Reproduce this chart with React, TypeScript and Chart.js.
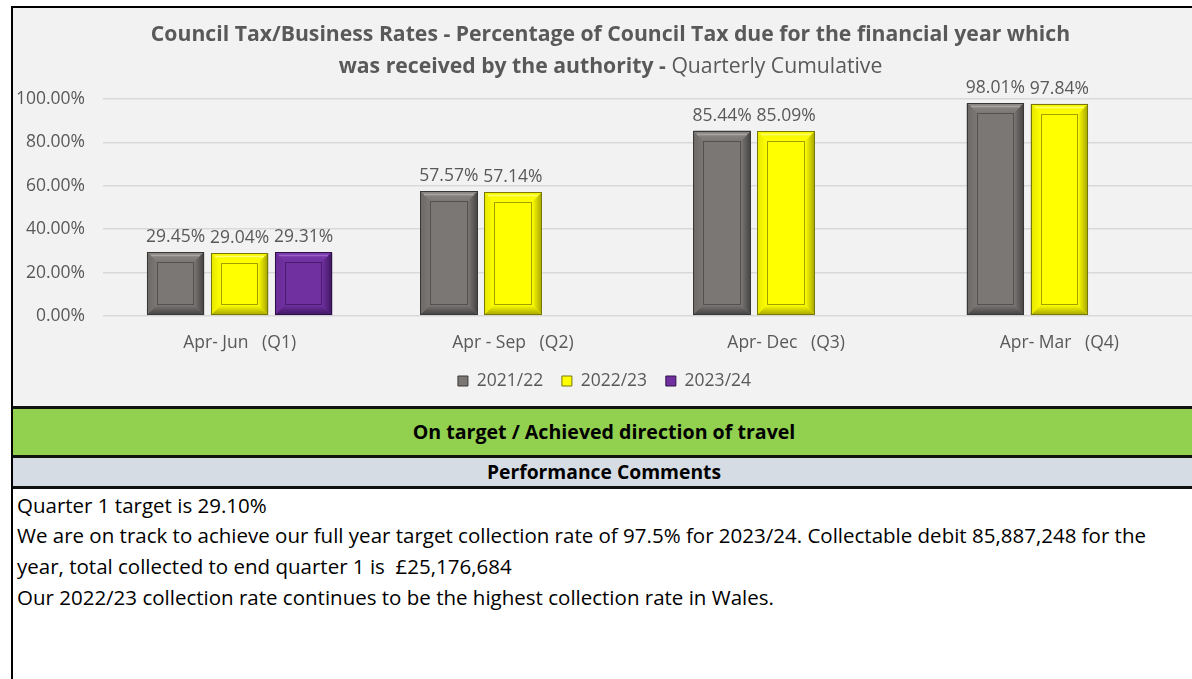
import React, { useEffect, useRef } from "react";
import { Chart, registerables } from "chart.js";

Chart.register(...registerables);

const categories = ["Apr- Jun   (Q1)", "Apr - Sep   (Q2)", "Apr- Dec   (Q3)", "Apr- Mar   (Q4)"];
const seriesNames = ["2021/22", "2022/23", "2023/24"];
const values2122 = [29.45, 57.57, 85.44, 98.01];
const values2223 = [29.04, 57.14, 85.09, 97.84];
const values2324 = [29.31, null, null, null];
const yTickValues = [0, 20, 40, 60, 80, 100];

const titleLine1 = "Council Tax/Business Rates - Percentage of Council Tax due for the financial year which";
const titleLine2Bold = "was received by the authority - ";
const titleLine2Normal = "Quarterly Cumulative";
const statusText = "On target / Achieved direction of travel";
const commentsHeader = "Performance Comments";
const commentLines = [
  "Quarter 1 target is 29.10%",
  "We are on track to achieve our full year target collection rate of 97.5% for 2023/24. Collectable debit 85,887,248 for the",
  "year, total collected to end quarter 1 is  £25,176,684",
  "Our 2022/23 collection rate continues to be the highest collection rate in Wales.",
];

const FONT = "'Open Sans'";
const TEXT_GRAY = "#595959";
const SMALL = 17.5;

const palettes = [
  { base: "#7a7775", topOuter: "#8c8987", hl: "#a9a6a4", leftOuter: "#6c6967", rightOuter: "#434140", bottomOuter: "#434140", inner: "#535150", border: "#3a3837" },
  { base: "#ffff00", topOuter: "#f4f400", hl: "#ffff70", leftOuter: "#e6e600", rightOuter: "#a3a300", bottomOuter: "#a3a300", inner: "#a0a000", border: "#77770a" },
  { base: "#7030a0", topOuter: "#7c3aae", hl: "#9a62c6", leftOuter: "#6a2c98", rightOuter: "#3f1660", bottomOuter: "#3f1660", inner: "#4a1c70", border: "#2e1048" },
];

function fillPoly(ctx: CanvasRenderingContext2D, pts: number[][], style: any) {
  ctx.beginPath();
  ctx.moveTo(pts[0][0], pts[0][1]);
  for (let i = 1; i < pts.length; i++) ctx.lineTo(pts[i][0], pts[i][1]);
  ctx.closePath();
  ctx.fillStyle = style;
  ctx.fill();
}

function grad(ctx: CanvasRenderingContext2D, x0: number, y0: number, x1: number, y1: number, c0: string, c1: string) {
  const g = ctx.createLinearGradient(x0, y0, x1, y1);
  g.addColorStop(0, c0);
  g.addColorStop(1, c1);
  return g;
}

const bevelPlugin = {
  id: "bevelBars",
  afterDatasetsDraw(chart: any) {
    const ctx: CanvasRenderingContext2D = chart.ctx;
    ctx.save();
    chart.data.datasets.forEach((ds: any, i: number) => {
      const meta = chart.getDatasetMeta(i);
      const pal = palettes[i];
      meta.data.forEach((el: any, j: number) => {
        const v = ds.data[j];
        if (v == null) return;
        const { x, y, base, width } = el.getProps(["x", "y", "base", "width"], true);
        const l = Math.round(x - width / 2);
        const r = Math.round(x + width / 2);
        const t = Math.round(Math.min(y, base));
        const b = Math.round(Math.max(y, base));
        const bw = Math.min(10, (r - l) / 4, (b - t) / 4);
        ctx.fillStyle = pal.base;
        ctx.fillRect(l, t, r - l, b - t);
        fillPoly(ctx, [[l, t], [r, t], [r - bw, t + bw], [l + bw, t + bw]], grad(ctx, 0, t, 0, t + bw, pal.topOuter, pal.base));
        fillPoly(ctx, [[l, t], [l + bw, t + bw], [l + bw, b - bw], [l, b]], grad(ctx, l, 0, l + bw, 0, pal.leftOuter, pal.base));
        fillPoly(ctx, [[r, t], [r, b], [r - bw, b - bw], [r - bw, t + bw]], grad(ctx, r, 0, r - bw, 0, pal.rightOuter, pal.base));
        fillPoly(ctx, [[l, b], [l + bw, b - bw], [r - bw, b - bw], [r, b]], grad(ctx, 0, b, 0, b - bw, pal.bottomOuter, pal.base));
        ctx.lineWidth = 1.5;
        ctx.strokeStyle = pal.hl;
        ctx.beginPath();
        ctx.moveTo(l + 4, t + 3.5);
        ctx.lineTo(r - 4, t + 3.5);
        ctx.stroke();
        ctx.lineWidth = 1;
        ctx.strokeStyle = pal.inner;
        ctx.strokeRect(Math.round(l + bw) + 0.5, Math.round(t + bw) + 0.5, Math.round(r - l - 2 * bw) - 1, Math.round(b - t - 2 * bw) - 1);
        ctx.strokeStyle = pal.border;
        ctx.strokeRect(l + 0.5, t + 0.5, r - l - 1, b - t - 1);
        ctx.fillStyle = TEXT_GRAY;
        ctx.font = `${SMALL}px ${FONT}`;
        ctx.textAlign = "center";
        ctx.textBaseline = "alphabetic";
        ctx.fillText(v.toFixed(2) + "%", x, t - 10);
      });
    });
    ctx.restore();
  },
};

const titlePlugin = {
  id: "mixedTitle",
  afterDraw(chart: any) {
    const ctx: CanvasRenderingContext2D = chart.ctx;
    const cx = chart.width / 2;
    ctx.save();
    ctx.fillStyle = TEXT_GRAY;
    ctx.textBaseline = "middle";
    ctx.textAlign = "left";
    const bold = `bold 21.2px ${FONT}`;
    const normal = `21.2px ${FONT}`;
    ctx.font = bold;
    const w1 = ctx.measureText(titleLine1).width;
    ctx.fillText(titleLine1, cx - w1 / 2, 27);
    const wb = ctx.measureText(titleLine2Bold).width;
    ctx.font = normal;
    const wn = ctx.measureText(titleLine2Normal).width;
    const start = cx - (wb + wn) / 2;
    ctx.font = bold;
    ctx.fillText(titleLine2Bold, start, 59);
    ctx.font = normal;
    ctx.fillText(titleLine2Normal, start + wb, 59);
    ctx.restore();
  },
};

function ChartCanvas() {
  const ref = useRef<HTMLCanvasElement | null>(null);
  useEffect(() => {
    if (!ref.current) return;
    const allSeries = [values2122, values2223, values2324];
    const chart = new Chart(ref.current, {
      type: "bar",
      data: {
        labels: categories,
        datasets: allSeries.map((vals, i) => ({
          label: seriesNames[i],
          data: vals,
          backgroundColor: palettes[i].base,
          borderColor: palettes[i].border,
          borderWidth: 1,
          categoryPercentage: 0.703,
          barPercentage: 0.9,
        })),
      },
      options: {
        animation: false,
        responsive: false,
        devicePixelRatio: 1,
        layout: { padding: { top: 91, right: 12, bottom: 6.25, left: 0 } },
        plugins: {
          title: { display: false },
          tooltip: { enabled: false },
          legend: {
            position: "bottom",
            labels: {
              boxWidth: 10,
              boxHeight: 10,
              padding: 18.75,
              color: TEXT_GRAY,
              font: { family: FONT, size: SMALL },
            },
          },
        },
        scales: {
          x: {
            grid: { display: false, drawTicks: false },
            border: { display: false },
            ticks: { color: TEXT_GRAY, font: { family: FONT, size: SMALL }, padding: 16.5 },
            afterFit: (s: any) => {
              s.height = 37.5;
            },
          },
          y: {
            min: 0,
            max: 100,
            afterBuildTicks: (s: any) => {
              s.ticks = yTickValues.map((v) => ({ value: v }));
            },
            ticks: {
              color: TEXT_GRAY,
              font: { family: FONT, size: SMALL },
              padding: 18,
              callback: (v: any) => Number(v).toFixed(2) + "%",
            },
            grid: { color: "#d9d9d9", drawTicks: false, lineWidth: 1.5 },
            border: { display: false },
            afterFit: (s: any) => {
              s.width = 90;
            },
          },
        },
      },
      plugins: [bevelPlugin, titlePlugin],
    } as any);
    return () => chart.destroy();
  }, []);
  return <canvas ref={ref} width={1195} height={398} />;
}

export default function App() {
  const abs = (o: any) => ({ position: "absolute" as const, ...o });
  return (
    <div style={abs({ left: 0, top: 0, width: 1192, height: 679, overflow: "hidden", background: "#ffffff", fontFamily: FONT })}>
      <div style={abs({ left: 13, top: 8, width: 1195, height: 398, background: "#f2f2f2" })}>
        <ChartCanvas />
      </div>
      <div style={abs({ left: 11, top: 6, width: 1200, height: 2, background: "#000" })} />
      <div style={abs({ left: 11, top: 6, width: 2, height: 700, background: "#000" })} />
      <div style={abs({ left: 13, top: 406, width: 1200, height: 2.5, background: "#111" })} />
      <div
        style={abs({
          left: 13,
          top: 408.5,
          width: 1182,
          height: 46.5,
          background: "#92d050",
          display: "flex",
          alignItems: "center",
          justifyContent: "center",
          fontWeight: "bold",
          fontSize: 19.6,
          color: "#000",
        })}
      >
        {statusText}
      </div>
      <div style={abs({ left: 13, top: 455, width: 1200, height: 2.5, background: "#111" })} />
      <div
        style={abs({
          left: 13,
          top: 457.5,
          width: 1182,
          height: 28.5,
          background: "#d6dce4",
          display: "flex",
          alignItems: "center",
          justifyContent: "center",
          fontWeight: "bold",
          fontSize: 19.3,
          color: "#000",
        })}
      >
        {commentsHeader}
      </div>
      <div style={abs({ left: 13, top: 486, width: 1200, height: 2.5, background: "#111" })} />
      <div style={abs({ left: 17, top: 489.6, fontSize: 20.5, lineHeight: "30.7px", color: "#000", whiteSpace: "pre" })}>
        {commentLines.map((line, i) => (
          <div key={i}>{line}</div>
        ))}
      </div>
    </div>
  );
}
